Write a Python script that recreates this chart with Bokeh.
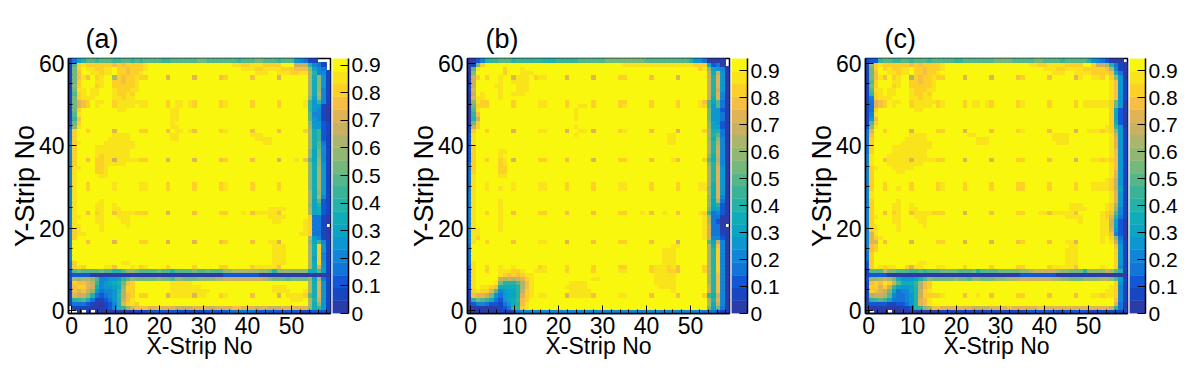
from bokeh.embed import file_html
from bokeh.resources import INLINE
from bokeh.layouts import row
from bokeh.models import ColumnDataSource, FixedTicker, LinearColorMapper, Range1d, Title
from bokeh.plotting import figure
from bokeh.transform import transform
import numpy as np

# Colour levels, lowest to highest: "0123456789abcdefghij". "." = empty cell.
LEVELS = "0123456789abcdefghij"
PALETTE = ["#2B3BA8", "#1746C0", "#1257D8", "#1276D8", "#1185D6", "#0D97D0", "#0AA5C5", "#10ADB8", "#24B1A8", "#38B398",
           "#55B68A", "#75B87C", "#92B772", "#ABB56B", "#CAB162", "#E0B455", "#F6BF43", "#FDD027", "#F9E41C", "#F9F70E"]
NCOLS = 59
X_TICKS = [0, 10, 20, 30, 40, 50]
X_MINOR = list(range(0, 59, 2))
Y_TICKS = [0, 20, 40, 60]
Y_MINOR = list(range(0, 61, 5))
BAR_TICKS = [0, 0.1, 0.2, 0.3, 0.4, 0.5, 0.6, 0.7, 0.8, 0.9]
BAR_TOP = [0.924, 0.945, 0.945]
TITLES = ["(a)", "(b)", "(c)"]
X_LABEL = "X-Strip No"
Y_LABEL = "Y-Strip No"

# Rows from top (row 61) to bottom (row 0). "left|right": the gap between is the top level.
PANEL_A = [
"1368a a9aaa 99aa9 a9aaa a99aa aaaab baaaa aaa9a aabba aa9aa aaaaa|54311...",
"1ahih hhhhh ghghh hhijj jjjjj jjjjj jjjjj jjiih hiiih hhh|eee8431.",
"1bhji ihhii jhhgh hhijj|jiiihhiiiihhhgggc643.",
"1bgjj iihii jhhgh hijj|jjjjiiijjiiihhiid8441",
"1bgig jhijj d hghhi hh jjjj f jjjjj f jjjjj gh jjjjj g jjjjj f jjjjj j d7c51",
"1bhjj jiijj hhghh i|jjd7c51",
"1chjj jhijj hhhhh i|jjd7c51",
"1biij iijjj ihhhi i|jjd7c41",
"1ahij iijjj ihhih j|jjd7d41",
"1bhii ijjjj iihii j|jjc6c41",
"1bfgh jiijj h iiiii ii jjjj h jiiji h jjjjj hi jjjjj h jjjjj h jjjjj i 95941",
"1bfgh jijjj h iiiij ii jjjj h jiiji h jjjjj hi jjjjj h jjjjj h jjjjj i 95510",
"1bhjj jjjjj jiijj jjjjj jjjii j|jj95410",
"1aijj jjjjj jjjjj jjjjj jjjii j|jja4410",
"19gjj jjjjj jjjjj jjjjj jjjii j|jja5410",
"2bhjj jjjjj jjjjj jjjjj jjjij j|jjc5521",
"2cijj jjjjj jjjjj jjjjj jjjii j|jjc5521",
"3hjjh jjjjj f jjjjj hh jjjj g jiiji g jjjjj hi jjjjj g jjjjj g jjjjj h d7921",
"3hjjj jjjjj iiiij jjjjj jjjii jjjjj jjjjj jjjjj jiiij|jjd7921",
"3hjjj jjjji iiiij jjjjj jjjii jjjjj jjjjj jjjjj jjiii i|jjd7921",
"4hijj jjjii iiiii jjjjj jjjjj jjjjj jjjjj jjjjj jjjji i|jjd7a31",
"4hjjj jiiii iiiii jjj|jjd7a41",
"4hjjj jiiii iiiij jjj|jjc6b41",
"4hjjj jihii iiiij jjj|jjc6b41",
"4hjjg jhhii e iiiii hh jjjj f jjjjj f jjjjj gh jjjjj g jjjjj f jjjij g a6c41",
"4hjjj jhhii iiijj|jc7c51",
"4iijj jhhij jjj|jjc7d51",
"4ijjj jhhij jjj|jjc7d51",
"4ijjj jjiij jjj|jjc7d51",
"4ijjj|jjc7d51",
"4ijjh jjjjj i jjjjj ii jjjj h jjjjj h jjjjj hi jjjjj h jjjjj h jjjjj j c7d51",
"4ijjh jjjjj i jjjjj ii jjjj h jjjjj h jjjjj hi jjjjj h jjjjj h jjjjj j c7d51",
"4ijjj|jjd7c51",
"4ijjj|jjd7d41",
"4ijjj jjijj jjj|jjd6a21",
"4ijjj jiijj ijj|jjc6821",
"4ijjj jiijj iij|iiiijjjjjd6721",
"4ijjg jhijj g iiiih hh jjjj f jjjjj g jjjjj hh jjjij g iiiii g jjjjj j d6721",
"4iijj jiijj jiiij jjj|iiiijjjjjh3310",
"4ijjj jiijj jjiij jjj|jiijjjjjih3310",
"4iijj jjijj jjjij|jjjjih331.",
"4hijj jjijj|jjjjih3310",
"4hiij|jjiih3310",
"4hjjj|jjd5410",
"4jjjg jjjjj f jjjjj hh jjjj f jjjjj f jjjjj gh jjjjj g jjjii f jjjjj j c6941",
"4jjjj|iiijjjjjd7h51",
"4jjjj|iiijjjjjd7h51",
"4jjjj|iiijjjjjd7h41",
"4jjjj|iiijjjjjd6h41",
"3hjjj jjjjj jjiij|iiijjjjjd7h51",
"3hihj jjjii g jjjij hi jjjj h jjjjj h jjjjj hh jjjjj h iiiii g jjjjj j d7f51",
"2abaa aabaa 88acc baaaa baa8a aaaba abaaa ccddd dddcc b8ccc ccccc cc|77a51",
"12222 00000 00000 00000 00000 00000 00000 22222 22200 00000 00000 0000",
"2dcdd ca445 569ac bbbbb cbbac cbbbc cccdd eeeee eeeed cbbba bbbbc cccc|c6d31",
"1hggf e9456 78bgh jjjjj jjjii iiijj jjjjj|d7f51",
"1ghhf e7455 67chh jjjjj jjjii iiiii jjjjj jjjjj jjjjj jiiij|jd7f51",
"1gfge c5344 58dhh jjjjj jjjii iiiii iijjj jjjjj jjjjj jiiii|id7f51",
"1feec 83234 59dgh j hh jjjj f iiiii f iijjj hi jjjjj g jjjjj f jiiii h a7f51",
"189a7 31123 58egi jjjjj jjj|iiijd8e51",
"13332 10012 48fhi hjjjj|jjd7c51",
".1111 00012 489cf gggff gfffe eeeff feeff ffggf ffeff eeeff fffff ffff|c7951",
"..0.0 .0000 00000 11122 22222 11111 12222 23333 33222 22222 22111 2221.",
]

PANEL_B = [
"00248 99aaa 89999 99888 99999 aaaaa abbbb bbbbb aaaaa aaaaa aa|85530000.",
"01bhj jjjjj jjjjj jjjjj jjjjj jjjjj jjjjj iiiii iiiii iiiii iiihh|hhh7230.",
"0aijj jjjhj jjijj jjj|jjjjjjjjjhic6540",
"0cjjj jjjhj jjiii jjj|e7e50",
"0ehjh jjijj f iiijh ii jjjj f jjjjj f jjjjj hh jjjjj g jjjjj f jjjjj j e8f50",
"0ejjj jjijj iiii|e8f50",
"1ejjj jiijj jiiij|e8f50",
"1fjjj jjijj jiiij|e8e50",
"0ejij jjijj iiij|e8f40",
"0fiij jjijj jjjj|e7f40",
"0cihh jjjjj h jjjjj ii jjjj h jjjjj h jjjjj hh jjjjj h jjjjj h jjjji g a6a30",
"0bhhh jjjjj h jjjjj ii jjjj h jjiij h jjjjj hi jjjjj h jjjjj h jjjji h a5a30",
"0aijj jjjjj jjjjj jjjjj jjjji|b5520",
"09gjj jjjjj jjjjj jjjjj jjjji|b5530",
"08ejj jjjjj jjjjj jjjjj jjjji|b5530",
"0bhjj|c6520",
"1ehjj jjjjj jjjjj jjjjj jjjji|c6620",
"1hjjh jjjjj f jjjjj ii jjjj f jjiij f jjjjj hi jjjjj g jjjjj f jjjjj h d7830",
"2ijjj jjjjj jjjjj jjjjj jjjji jjjjj jjjjj jjjjj jjjjj ii|jjd8a30",
"2ijjj jjjjj jjjjj jjjjj jjjjj jjjjj jjjjj jjjjj jjjjj ii|jjc7c40",
"2ijjj jjjjj jjjjj jjjjj jjjjj jjjjj jjjjj jjjjj jjjjj ii|jjd8d40",
"2hjjj|d8e40",
"2hjjj jjiij|d8e40",
"2hjjj jjijj|c7e40",
"2hjjh jjhij f jjjjj hh jjjj g jjjjj f jjjjj hh jjjjj g jjjji g jjjjj h a7d40",
"3hjjj jjhij|c8e40",
"3hjjj jjhhj|d8f50",
"3hjjj jjhhj|d8f50",
"3ijjj jjiij|d8f50",
"3ijjj|d8f50",
"3ijji jjjjj i jjjjj ii jjjj h jjjjj h jjjjj ii jjjjj h jjjjj h jjjji i d7f50",
"3ijji jjijj i jjjjj ii jjjj h jjjjj h jjjjj ii jjjjj h jjjjj h jjjji i c7f50",
"4ijjj|d7f50",
"4ijjj|c7f40",
"4ijjj jjijj|c6d30",
"4ijjj jjijj|c6820",
"4ijjj jjijj|b5620",
"4ijjh jjijj g jjjjj hh jjjj g jjjjj g jjjjj hh jjjij g jjijj g jjjji h 93420",
"4ijjj jjijj|id3300",
"4ijjj jjijj|id3200",
"4ijjj jjijj|ie330.",
"4iijj jjijj|ie3300",
"4iijj jjjjj|ie3310",
"4ihjj|ie4420",
"4ijjh jjjjj g jjjjj ii jjjj f jjjjj g jjjjj hh jjjjj g jjjjj e jjjjj j a6e40",
"3jjjj|iijjjjjjd7g40",
"3jjjj|iiijjjjjjjd8h40",
"3jjjj|iiijjjjjjjd8h40",
"3jjjj|iiijjjjjjjd8h40",
"3ijjj|iiijjjjjjjd8h40",
"2ijjh jjijj i jjjjj hi jjjj h jjjjj h jjjjj hh jjjjj h iiihi g jjjjj h d8h40",
"2ijjh jjiii h hijji ii jjjj h jjjjj h jjjjj ii jjjjj h iiihh g jjjjj h d8h40",
"2ijjj jjihg hghii jjjjj jjjjj jjjj|iiiiijjjjjjjd8g40",
"2ijjj jjede defhi jjjjj jjjjj jjjii jj|iiiiijjjjjjjd8g40",
"2ijjj jib88 8adgi jjjjj jjjii iijj|iiiiijjjjjjjd8g40",
"2ijii hg777 78dgi jjjjj jjiii iijj|jiiiijjjjjjje8g40",
"1hihh fa456 68ehi jjjjj jjjii iiijj|jjijjjjjjje8g40",
"1gffe b5356 68fhi j ii jjjj f iiiii g jjjjj ii jjjjj g jjjjj g jjjjj h 97e40",
"08ba9 73256 79ghj jjjjj jjjjj|d8f40",
"02443 22135 78gij|d7e40",
"00000 00123 89hij|b6b30",
"00000 00110 03444 44444 44444 44444 44444 44444 44444 44444 44433 3211",
]

PANEL_C = [
"1229a a99aa 9aaa9 aaaaa 99aaa aaaab bbbaa aaabb aaaa9 aaaaa aaaaa|85432000.",
"1chih hhhhh ghghh hhijj jjjjj jjjjj jjjjj jjiih hiiii hhhh|heed8310",
"1bhjh ihhii jhhgh hhijj|jiiihhiiiihhhhhgd410",
"1bgjj iihii jhhgh hijj|jjjiiijjiiiihhhhg730",
"1bgig jhijj d hghhi hh jjjj f jjjjj f jjjjj gh jjjjj g jjjjj f ijjii h jhc50",
"1ahjj jiijj hhghh ij|jig51",
"1bhjj jhijj hhhhh ij|jig51",
"1aiij iijjj ihhhi ij|jig51",
"19hij iijjj ihhih j|jig51",
"14hii ijjjj iihii j|jig51",
"13fgh jiijj h iiiii hi jjjj h jiiji h jjjjj hi jjjjj h jjjjj h jiiii i ihb50",
"13fgh jijjj h iiiij hi jjjj h jiiji h jjjjj hi jjjjj h jjjjj h jiiii i ihb50",
"13hjj jjjjj jiijj|jh620",
"14ijj|jh620",
"15gjj|jh620",
"1ahjj|jh720",
"2cijj|ih950",
"3fjjh jjjjj f jjjjj hh jjjj f jjjjj g jjjjj hi jjjjj g jjjjj f jjiii h ihc51",
"3gjjj jjjjj iiiij jjjjj jjjii jjjjj jjjjj jjjjj jjiii i|jie51",
"3hjjj jjjji iiiij jjjjj jjjjj iiijj jjjjj jjjjj jjiii i|jif51",
"3hjjj jjjii iiiii jjjjj jjjjj iiijj jjjjj jjjjj jjjii i|jif51",
"3hjjj jiiii iiiii|jif51",
"3hjjj jiiii iiiij|jig51",
"4ijjj iiiii iiiij|jig51",
"4ijjg iiiii f iiiii hh jjjj f jjjjj f jjjjj hh jjjjj g jjjjj f jjjii h ihg51",
"4ijjj iiiii iiijj|jig51",
"4hijj jiiii ijjj|jig51",
"4hjjj jjiij jjj|jif51",
"4hjjj|jif51",
"4hjjj|ihe51",
"4hjjh jjjjj h jjjjj hi jjjj h jjjjj h jjjjj hh jjjjj h jjjjj h jjjii i ihe51",
"4hjjh jjijj h jjjjj hi jjjj h jjjjj h jjjjj hh jjjjj h jjjjj h jjjii i ihe61",
"4ijjj|jif51",
"4ijjj|jif51",
"4hjjj jjijj|jif51",
"4hjjj jiijj ijj|iiijjjjjihd51",
"4hjjj jiijj iij|iiiijjjjihc41",
"4hjjg jhijj g iiiih hh jjjj f jjjjj g jjjjj hh jjjii g iiiii g jjjjj i hga41",
"4hijj jiijj jiiij jjj|iiiijjjjihf831",
"4hjjj jiijj jjiij|jjjijjjjiie620",
"4hijj jjijj jjjij|jjjjiie620",
"4hijj jjijj|jjiif520",
"4fijj|jjiig420",
"4fhij|jjijhc30",
"4ffjg jjjjj f jjjjj hh jjjj f jjjjj f jjjjj gh jjjjj g jjjii f jjjjj i jie41",
"4ghjj|iijjjjjjjjg51",
"4ghjj|iiijjjjjjjjh51",
"3hjjj|iiijjjjjjjjh51",
"3hjjj|iiijjjjjjjjh51",
"2hjjj jjjjj jjiij|iiijjjjjjjjh51",
"2hjih iijjh f iijjj ii jjjj h jjjjj h jjjjj hh jjjjj h iiiii g jjjjj i jjh41",
"1aaae bbaaa 99a9a aabbb baaab 8aaaa bbbbb ccdee eeedc cbbb8 ccccc ddddd|eda81",
"12222 00000 00000 00000 00000 00000 00000 22222 22200 00000 00000 0000",
"2ccde db755 568ac bbbbb cbbac cbbbc ccddd eeeee eeddc cbbbc cccdd dddd|dca61",
"1ghgi hea77 79dgh j|jjh51",
"1hhfh e9655 68dgh j|jih41",
"1hgfe b6344 68ehi jjjjj|jjjjjjjjiih41",
"1deed a4334 58ehh h hi jjjj g jjijj g jjjjj hh jjjjj g jjjjj g jjjii h iih41",
"089a9 63334 58fgi|jjg41",
"12222 11223 58fgi|jjf30",
"00000 00011 289cd ggfff ffffe eeeff ffgff ffffg fffff fffff fffff|fe930",
"0.000 .0000 00000 00111 11111 11111 11111 12222 22211 22222 11111 11110",
]

FRAME_W, FRAME_H = 262, 255


def decode(rows):
    grid = []
    for text in rows:
        text = text.replace(" ", "")
        if "|" in text:
            left, right = text.split("|")
            left = left[:NCOLS - len(right)]
            text = left + "j" * (NCOLS - len(left) - len(right)) + right
        grid.append((text + "j" * NCOLS)[:NCOLS])
    return grid[::-1]


def snapped_edges(rng, n, pixels):
    px = np.round(np.linspace(0, pixels, n + 1))
    return rng.start + px * (rng.end - rng.start) / pixels


def heat_panel(rows, title, top, border_left, title_offset):
    x_range = Range1d(-0.7, 58.84)
    y_range = Range1d(-0.75, 61.15)
    p = figure(frame_width=FRAME_W, frame_height=FRAME_H, x_range=x_range, y_range=y_range,
               output_backend="svg", toolbar_location=None, tools="",
               min_border_left=border_left, min_border_right=2, min_border_top=58, min_border_bottom=45)
    grid = decode(rows)
    x_edges = snapped_edges(x_range, NCOLS, FRAME_W)
    y_edges = snapped_edges(y_range, len(grid), FRAME_H)
    cells = dict(left=[], right=[], bottom=[], top=[], v=[])
    for r, line in enumerate(grid):
        for c, ch in enumerate(line):
            if ch == ".":
                continue
            cells["left"].append(x_edges[c])
            cells["right"].append(x_edges[c + 1])
            cells["bottom"].append(y_edges[r])
            cells["top"].append(y_edges[r + 1])
            cells["v"].append((LEVELS.index(ch) + 0.5) * top / len(LEVELS))
    mapper = LinearColorMapper(palette=PALETTE, low=0, high=top)
    # the 1px outline in the cell's own colour closes the hairline seams between neighbouring cells
    p.quad(left="left", right="right", bottom="bottom", top="top", source=ColumnDataSource(cells),
           fill_color=transform("v", mapper), line_color=transform("v", mapper), line_width=1)
    p.grid.visible = False
    p.outline_line_color = "black"
    p.outline_line_width = 1.5
    p.xaxis.ticker = FixedTicker(ticks=X_TICKS, minor_ticks=X_MINOR)
    p.yaxis.ticker = FixedTicker(ticks=Y_TICKS, minor_ticks=Y_MINOR)
    for ax in (p.xaxis[0], p.yaxis[0]):
        ax.major_tick_in = 8
        ax.major_tick_out = 0
        ax.minor_tick_in = 4
        ax.minor_tick_out = 0
        ax.axis_line_color = "black"
        ax.axis_line_width = 1.5
        ax.major_label_text_font = "Liberation Sans"
        ax.major_label_text_font_size = "23px"
        ax.major_label_text_color = "black"
        ax.axis_label_text_font = "Liberation Sans"
        ax.axis_label_text_font_style = "normal"
        ax.axis_label_text_color = "black"
    p.xaxis.axis_label = X_LABEL
    p.xaxis.axis_label_text_font_size = "23px"
    p.xaxis.axis_label_standoff = -4
    p.xaxis.major_label_standoff = 3
    p.yaxis.axis_label = Y_LABEL
    p.yaxis.axis_label_text_font_size = "27px"
    p.yaxis.axis_label_standoff = -4
    p.yaxis.major_label_standoff = 4
    p.yaxis.major_label_orientation = "horizontal"
    p.title = Title(text=title, align="left", offset=title_offset, text_font="Liberation Sans",
                    text_font_size="27px", text_font_style="normal", text_color="black")
    return p


def bar_panel(top, border_right):
    b = figure(frame_width=16, frame_height=FRAME_H, x_range=Range1d(0, 1), y_range=Range1d(0, top),
               output_backend="svg", toolbar_location=None, tools="", y_axis_location="right",
               x_axis_location=None, min_border_left=0, min_border_right=border_right,
               min_border_top=58, min_border_bottom=45, outline_line_color=None)
    edges = np.linspace(0, top, len(PALETTE) + 1)
    b.quad(left=0, right=1, bottom=edges[:-1], top=edges[1:], fill_color=PALETTE, line_color=PALETTE, line_width=0.4)
    b.grid.visible = False
    ax = b.yaxis[0]
    ax.ticker = FixedTicker(ticks=BAR_TICKS)
    ax.major_tick_in = 8
    ax.major_tick_out = 0
    ax.minor_tick_in = 0
    ax.minor_tick_out = 0
    ax.axis_line_color = "black"
    ax.axis_line_width = 1.5
    ax.major_label_text_font = "Liberation Sans"
    ax.major_label_text_font_size = "21px"
    ax.major_label_text_color = "black"
    ax.major_label_standoff = 3
    return b


panels = []
for rows, title, top, bl, br, off in zip((PANEL_A, PANEL_B, PANEL_C), TITLES, BAR_TOP,
                                         (68, 69, 68), (50, 50, 30), (17, 18, 19)):
    panels.append(heat_panel(rows, title, top, bl, off))
    panels.append(bar_panel(top, br))

layout = row(*panels, spacing=0)
open("out.html", "w").write(file_html(layout, INLINE))
